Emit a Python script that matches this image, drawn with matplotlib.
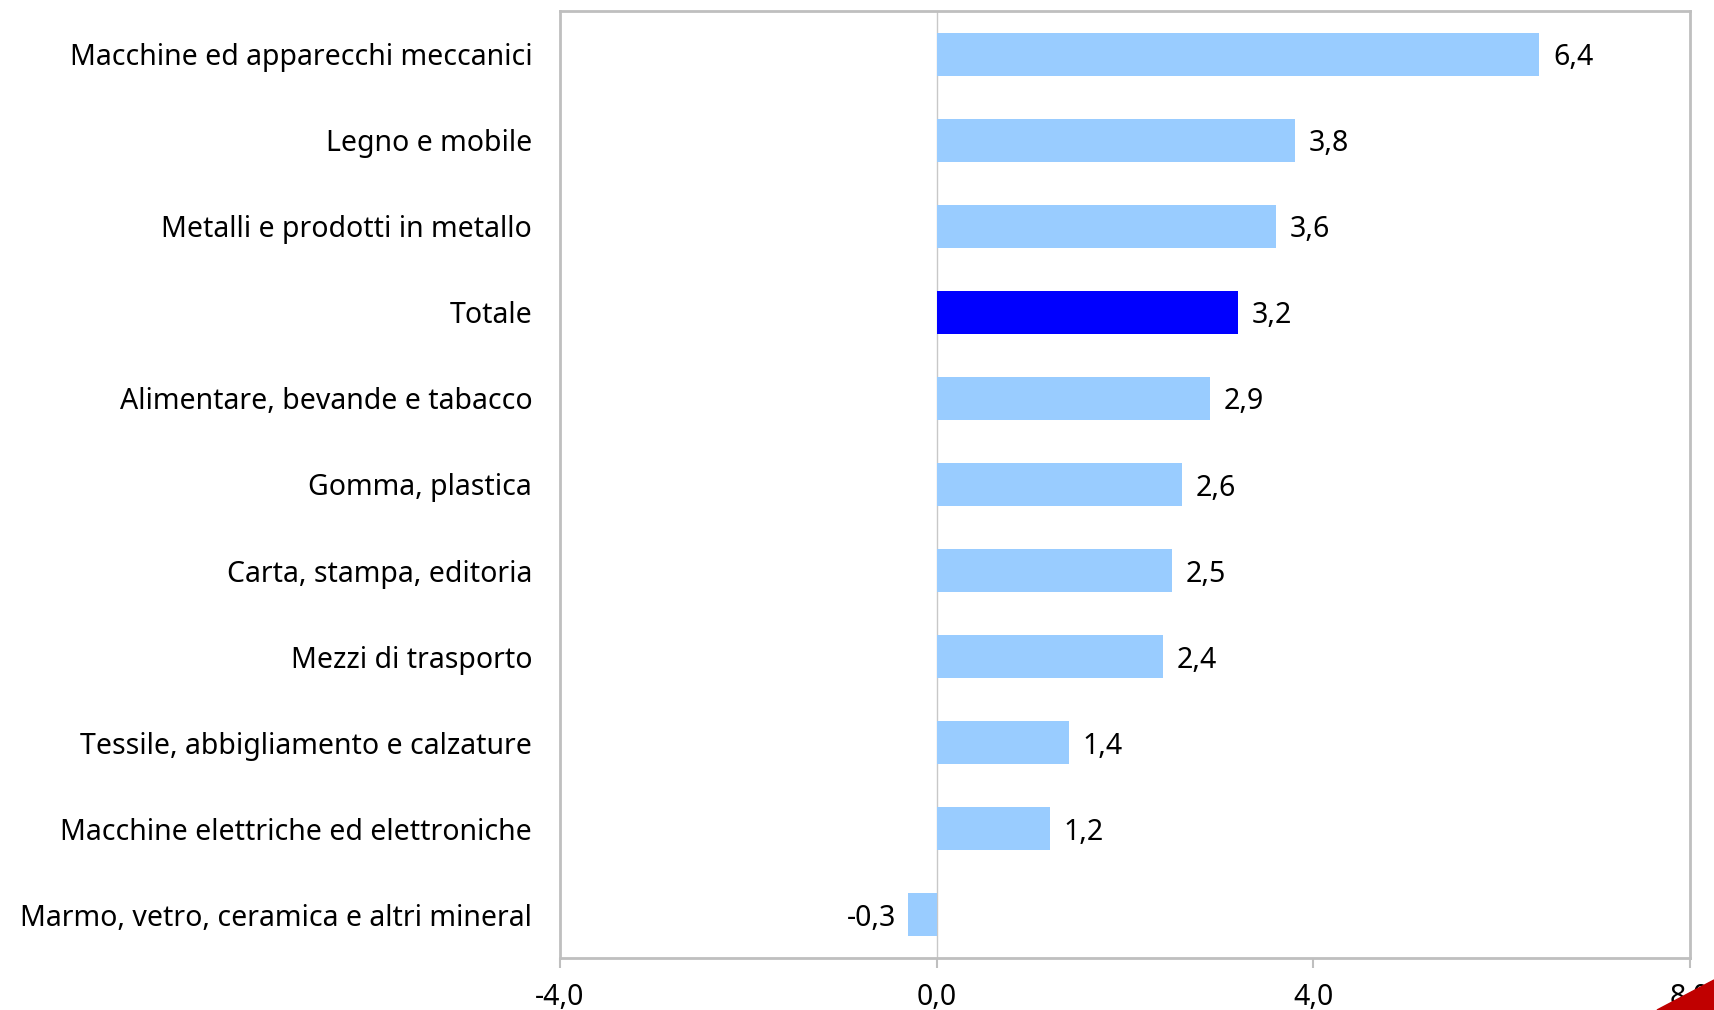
import matplotlib
matplotlib.use('Agg')
from matplotlib import pyplot as plt
from matplotlib.patches import Polygon

# dati (dall'alto verso il basso)
settori = ['Macchine ed apparecchi meccanici', 'Legno e mobile',
           'Metalli e prodotti in metallo', 'Totale',
           'Alimentare, bevande e tabacco', 'Gomma, plastica',
           'Carta, stampa, editoria', 'Mezzi di trasporto',
           'Tessile, abbigliamento e calzature',
           'Macchine elettriche ed elettroniche',
           'Marmo, vetro, ceramica e altri mineral']
valori = [6.4, 3.8, 3.6, 3.2, 2.9, 2.6, 2.5, 2.4, 1.4, 1.2, -0.3]
tick_x = [-4, 0, 4, 8]
tick_lab = ['-4,0', '0,0', '4,0', '8,0']

plt.rcParams['font.family'] = ['Noto Sans', 'DejaVu Sans']
fs = 20.5

fig = plt.figure(figsize=(17.14, 10.10), dpi=100)
ax = fig.add_axes([560/1714, 1 - 958/1010, 1130/1714, 947/1010])

colori = ['#0000FF' if s == 'Totale' else '#99CCFF' for s in settori]
y = list(range(len(settori)))
ax.barh(y, valori, height=0.5, color=colori, zorder=2)
ax.set_ylim(len(settori) - 0.5, -0.5)
ax.set_xlim(-4, 8)
ax.axvline(0, color='#C8C8C8', lw=1, zorder=1)

for yi, v in zip(y, valori):
    lab = ('%.1f' % v).replace('.', ',')
    if v >= 0:
        ax.annotate(lab, (v, yi), xytext=(10, 0), textcoords='offset points',
                    va='center_baseline', ha='left', fontsize=fs)
    else:
        ax.annotate(lab, (v, yi), xytext=(-9, 0), textcoords='offset points',
                    va='center_baseline', ha='right', fontsize=fs)

ax.set_yticks(y)
ax.set_yticklabels(settori, fontsize=fs, va='center_baseline')
ax.tick_params(axis='y', length=0, pad=20)
ax.set_xticks(tick_x)
ax.set_xticklabels(tick_lab, fontsize=fs)
ax.tick_params(axis='x', length=7, color='#BFBFBF', width=1.5, pad=11)

for sp in ax.spines.values():
    sp.set_color('#BFBFBF')
    sp.set_linewidth(2)

# angolo rosso in basso a destra
fig.patches.append(Polygon([[1657/1714, 0], [1, 30/1010], [1, 0]],
                           closed=True, transform=fig.transFigure,
                           color='#C00000', zorder=0))

plt.savefig('out.png', dpi=100)
